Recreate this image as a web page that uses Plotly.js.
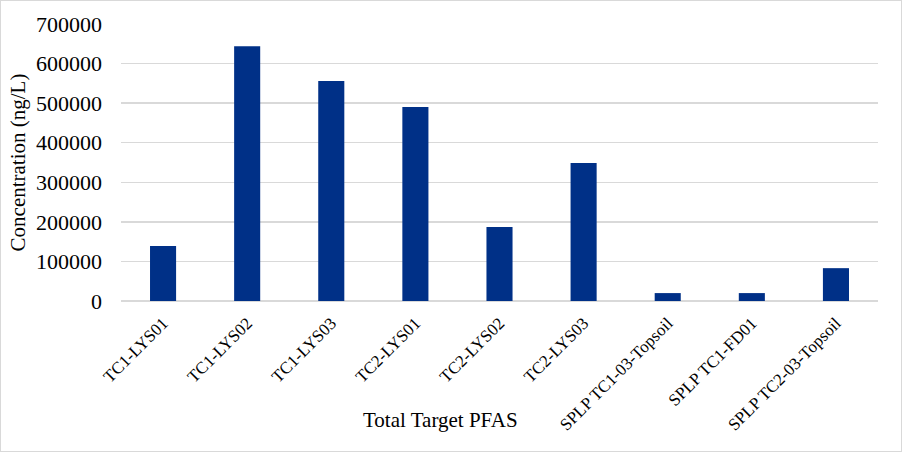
<!DOCTYPE html>
<html>
<head>
<meta charset="utf-8">
<script src="https://cdn.plot.ly/plotly-3.0.1.min.js"></script>
<style>
  body { margin: 0; background: #fff; }
  #chart { width: 902px; height: 452px; box-sizing: border-box; border: 1px solid #d9d9d9; }
</style>
</head>
<body>
<div id="chart"></div>
<script>
// sample names along the x axis
var samples = ['TC1-LYS01', 'TC1-LYS02', 'TC1-LYS03', 'TC2-LYS01', 'TC2-LYS02',
  'TC2-LYS03', 'SPLP TC1-03-Topsoil', 'SPLP TC1-FD01', 'SPLP TC2-03-Topsoil'];

// total target PFAS, ng/L
var totalPfas = [139000, 644000, 556000, 490000, 187000, 349000, 20000, 20000, 83000];

var yTicks = [0, 100000, 200000, 300000, 400000, 500000, 600000, 700000];

var font = "'Liberation Serif', 'DejaVu Serif', serif";

var trace = {
  x: samples,
  y: totalPfas,
  type: 'bar',
  marker: { color: '#003087' },
  hoverinfo: 'x+y'
};

var layout = {
  width: 900,
  height: 450,
  margin: { l: 120, r: 23, t: 23, b: 150 },
  paper_bgcolor: '#fff',
  plot_bgcolor: '#fff',
  showlegend: false,
  bargap: 0.69,
  font: { family: font, color: '#000' },
  xaxis: {
    type: 'category',
    tickangle: -45,
    tickfont: { family: font, size: 17, color: '#000' },
    showgrid: false,
    showline: false,
    ticks: '',
    ticklabelstandoff: 8
  },
  yaxis: {
    range: [0, 700000],
    tickvals: yTicks,
    ticktext: yTicks.map(String),
    tickfont: { family: font, size: 22, color: '#000' },
    showgrid: true,
    gridcolor: '#d9d9d9',
    gridwidth: 1.5,
    zeroline: true,
    zerolinecolor: '#d9d9d9',
    zerolinewidth: 1.5,
    showline: false,
    ticks: '',
    ticklabelstandoff: 18,
    title: { text: 'Concentration (ng/L)', font: { family: font, size: 21, color: '#000' }, standoff: 4 }
  },
  annotations: [{
    text: 'Total Target PFAS',
    xref: 'paper', yref: 'paper',
    x: 0.4227, y: -0.43,
    xanchor: 'center', yanchor: 'middle',
    showarrow: false,
    font: { family: font, size: 21, color: '#000' }
  }]
};

Plotly.newPlot('chart', [trace], layout, { displayModeBar: false, staticPlot: true });
</script>
</body>
</html>
